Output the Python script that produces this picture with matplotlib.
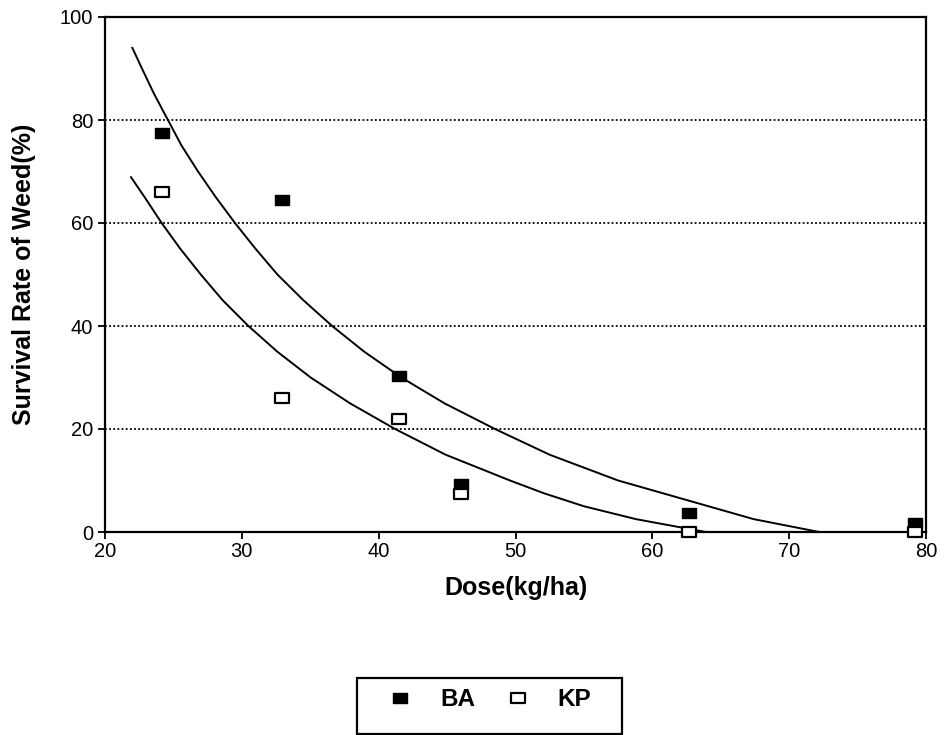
import numpy as np
import matplotlib.pyplot as plt
from matplotlib.path import Path
from matplotlib.patches import Rectangle

plt.rcParams['font.family'] = ['Liberation Sans', 'DejaVu Sans']

# measured points
dose = [24.2, 32.9, 41.5, 46.0, 62.7, 79.2]
ba = [77.4, 64.4, 30.2, 9.3, 3.7, 1.7]
kp = [66.0, 26.1, 21.9, 7.3, 0.0, 0.0]

# fitted curves
ba_fit_x = [22.0, 22.7, 23.6, 24.6, 25.6, 26.8, 28.1, 29.5, 31.0, 32.6, 34.5,
            36.6, 38.95, 41.66, 44.8, 48.5, 52.5, 57.5, 64.1, 67.4, 72.2]
ba_fit_y = [94, 90, 85, 80, 75, 70, 65, 60, 55, 50, 45,
            40, 35, 30, 25, 20, 15, 10, 5, 2.5, 0]
kp_fit_x = [21.9, 22.9, 24.14, 25.5, 27.0, 28.6, 30.48, 32.6, 35.03, 37.9,
            41.2, 44.9, 49.6, 52.1, 55.0, 58.8, 63.9]
kp_fit_y = [68.9, 65, 60, 55, 50, 45, 40, 35, 30, 25,
            20, 15, 10, 7.5, 5, 2.5, 0]

# wide rectangular marker like the original
rect = Path([(-0.7, -0.5), (0.7, -0.5), (0.7, 0.5), (-0.7, 0.5), (-0.7, -0.5)],
            [Path.MOVETO, Path.LINETO, Path.LINETO, Path.LINETO, Path.CLOSEPOLY])

fig = plt.figure(figsize=(9.44, 7.35), dpi=100)
ax = fig.add_axes([105/944, 1-532/735, (926-105)/944, (532-17)/735])

for yv in [20, 40, 60, 80]:
    ax.axhline(yv, color='black', lw=1.3, ls=(0, (1, 1.3)), zorder=1)

ax.plot(ba_fit_x, ba_fit_y, color='black', lw=1.4, zorder=2)
ax.plot(kp_fit_x, kp_fit_y, color='black', lw=1.4, zorder=2)

ax.plot(dose, ba, ls='none', marker=rect, ms=10, mfc='black', mec='black',
        mew=1, label='BA', clip_on=False, zorder=4)
ax.plot(dose, kp, ls='none', marker=rect, ms=10, mfc='white', mec='black',
        mew=1.6, label='KP', clip_on=False, zorder=4)

ax.set_xlim(20, 80)
ax.set_ylim(0, 100)
ax.set_xticks(np.arange(20, 81, 10))
ax.set_yticks(np.arange(0, 101, 20))
ax.tick_params(direction='out', length=5, width=1.3, labelsize=14.5, pad=2)
ax.tick_params(axis='y', pad=3.5)
for s in ax.spines.values():
    s.set_linewidth(1.6)

ax.set_xlabel('Dose(kg/ha)', fontsize=18, fontweight='bold', labelpad=11)
ax.set_ylabel('Survival Rate of Weed(%)', fontsize=18, fontweight='bold', labelpad=17)

fig.patches.append(Rectangle((357/944, 1.5/735), 265/944, 56/735, transform=fig.transFigure,
                             fill=False, lw=1.6, edgecolor='black'))
fig.legend(loc='center', bbox_to_anchor=(489.5/944, 1-700/735), ncol=2, frameon=False,
           prop={'size': 17.5, 'weight': 'bold'}, handlelength=1.0, handletextpad=1.15,
           columnspacing=1.25, borderpad=0)

fig.savefig('out.png', dpi=100)
